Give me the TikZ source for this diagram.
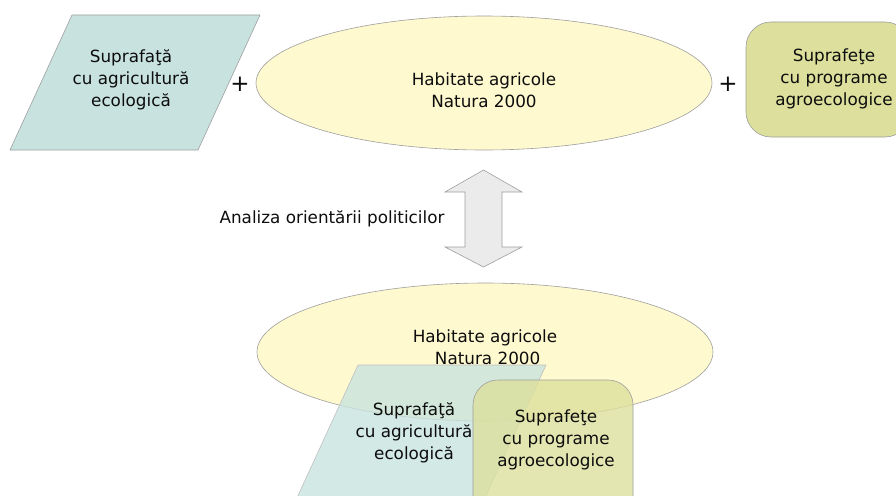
\documentclass[tikz,border=0pt]{standalone}
\usepackage{fontspec}
\setmainfont{DejaVu Sans}
\begin{document}
\begin{tikzpicture}[x=1pt,y=-1pt,
  txt/.style={align=center,font=\fontsize{16.8}{22}\selectfont,text=black!95,inner sep=0pt},
  plus/.style={font=\fontsize{23}{23}\selectfont,text=black!95,inner sep=0pt},
  edge/.style={draw=black!38,line width=0.6pt}]
\definecolor{teal}{HTML}{C8E3DF}
\definecolor{cream}{HTML}{FFF9CF}
\definecolor{olive}{HTML}{DCE09C}
\definecolor{arrowgray}{HTML}{EBEBEB}
\useasboundingbox (0,0) rectangle (896,495);
\clip (0,0) rectangle (896,495);
% top row
\path[edge,fill=teal] (72,15) -- (260,15) -- (198,150) -- (10,150) -- cycle;
\node[txt] (pa) at (131,80) {Suprafaţă\\cu agricultură\\ecologică};
\node[plus] (plus1) at (240,84) {+};
\path[edge,fill=cream] (484,83) ellipse [x radius=228pt, y radius=67pt];
\node[txt] (ha) at (484,90) {Habitate agricole\\Natura 2000};
\node[plus] (plus2) at (728,84) {+};
\path[edge,fill=olive,rounded corners=25pt] (746,22) rectangle (910,137);
\node[txt] (sa) at (834,79) {Suprafeţe\\cu programe\\agroecologice};
% double arrow
\path[edge,fill=arrowgray] (483.5,170) -- (522,192) -- (502,192) -- (502,247) -- (522,247)
  -- (483.5,267) -- (445,247) -- (465,247) -- (465,192) -- (445,192) -- cycle;
\node[txt] (lab) at (332,219) {Analiza orientării politicilor};
% bottom
\path[edge,fill=cream] (485,352) ellipse [x radius=228pt, y radius=69pt];
\node[txt] (hb) at (485,347) {Habitate agricole\\\ Natura 2000};
\path[draw=black!25,line width=0.6pt,fill=teal,fill opacity=0.8] (358,365) -- (546,365) -- (472.5,525) -- (284.5,525) -- cycle;
\path[edge,fill=olive,fill opacity=0.8,rounded corners=25pt] (473,380) rectangle (633,540);
\node[txt] (pb) at (414,433) {Suprafaţă\\cu agricultură\\ecologică};
\node[txt] (sb) at (556,440) {Suprafeţe\\cu programe\\agroecologice};
\end{tikzpicture}
\end{document}
